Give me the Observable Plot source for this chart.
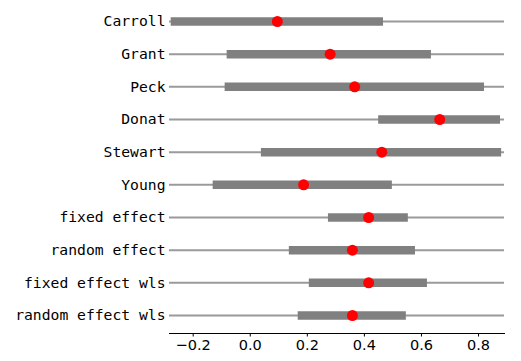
<!DOCTYPE html>
<html>
<head>
<meta charset="utf-8">
<script src="https://cdn.jsdelivr.net/npm/d3@7"></script>
<script src="https://cdn.jsdelivr.net/npm/@observablehq/plot@0.6"></script>
<style>
  body { margin: 0; background: #fff; }
  #chart svg { display: block; }
</style>
</head>
<body>
<div id="chart"></div>
<script>
const labels = ["Carroll", "Grant", "Peck", "Donat", "Stewart", "Young",
  "fixed effect", "random effect", "fixed effect wls", "random effect wls"];
const estimates = [0.095, 0.280, 0.366, 0.664, 0.461, 0.187, 0.415, 0.358, 0.415, 0.358];
const ciLow  = [-0.277, -0.081, -0.088, 0.450, 0.039, -0.130, 0.274, 0.137, 0.207, 0.168];
const ciHigh = [0.467, 0.635, 0.821, 0.877, 0.881, 0.498, 0.554, 0.579, 0.621, 0.547];
const xTicks = [-0.2, 0.0, 0.2, 0.4, 0.6, 0.8];

const rows = labels.map((name, i) => ({name, est: estimates[i], lo: ciLow[i], hi: ciHigh[i]}));
const xDomain = [-0.283, 0.891];

const fmt = v => (v < 0 ? "\u2212" : "") + Math.abs(v).toFixed(1);

const plot = Plot.plot({
  width: 521,
  height: 361,
  marginLeft: 169,
  marginRight: 17,
  marginTop: 3,
  marginBottom: 28,
  style: {background: "#fff", color: "#000"},
  x: {domain: xDomain, ticks: xTicks, tickFormat: fmt},
  y: {type: "point", domain: labels, range: [21, 315], padding: 0, round: false},
  marks: [
    Plot.ruleY(rows, {y: "name", x1: xDomain[0], x2: xDomain[1], stroke: "#9a9a9a", strokeWidth: 2}),
    Plot.ruleY(rows, {y: "name", x1: "lo", x2: "hi", stroke: "#808080", strokeWidth: 8.5}),
    Plot.dot(rows, {x: "est", y: "name", r: 5.5, fill: "#ff0000", stroke: "none"}),
    Plot.axisY({tickSize: 0, tickPadding: 4, fontFamily: "DejaVu Sans Mono", fontSize: 14.7, label: null}),
    Plot.axisX({ticks: xTicks, tickFormat: fmt, tickSize: 3.5, tickPadding: 3, fontFamily: "DejaVu Sans", fontSize: 14.5, label: null, stroke: "#000", strokeOpacity: 1}),
    Plot.frame({anchor: "bottom", stroke: "#000", strokeWidth: 1})
  ]
});
document.getElementById("chart").appendChild(plot);
</script>
</body>
</html>
